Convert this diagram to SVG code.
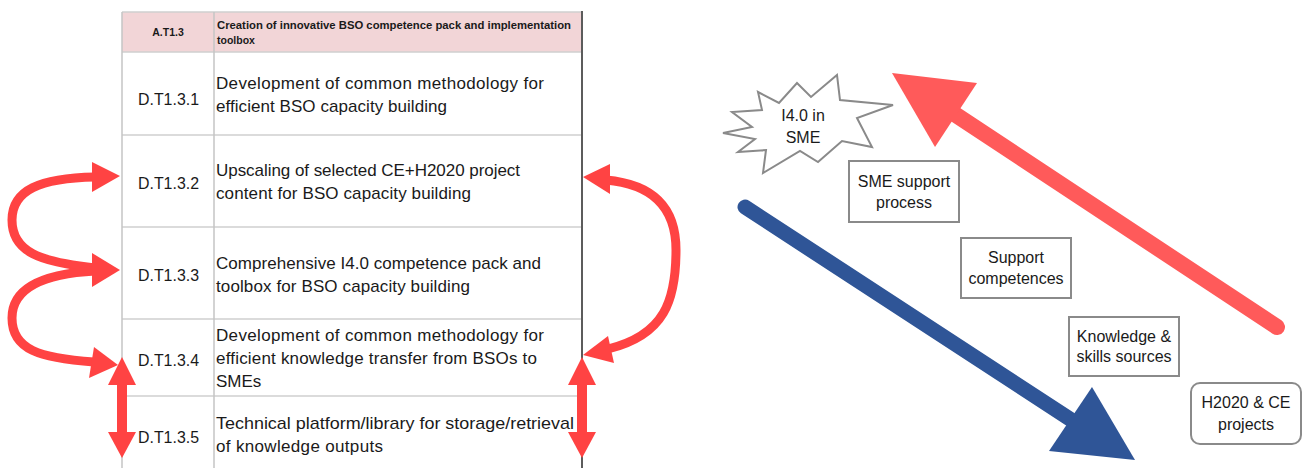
<svg xmlns="http://www.w3.org/2000/svg" width="1306" height="468" viewBox="0 0 1306 468">
<style>
  text { font-family: "Liberation Sans", Arial, sans-serif; fill: #1a1a1a; }
  .cell { font-size: 17px; }
  .hdr { font-size: 10.5px; font-weight: bold; }
  .lbl { font-size: 16px; text-anchor: middle; }
  .hline { stroke: #cfcfcf; stroke-width: 1.5; }
  .vline { stroke: #c4c4c4; stroke-width: 1.5; }
  .box { fill: #ffffff; stroke: #8a8a8a; stroke-width: 2; }
  .redc { fill: none; stroke: #ff4343; stroke-width: 9; }
  .redh { fill: #ff4343; }
</style>
<rect width="1306" height="468" fill="#ffffff"/>

<g id="table">
  <rect x="122" y="12" width="460" height="40" fill="#f2d5d7"/>
  <line class="hline" x1="122" y1="12" x2="582" y2="12"/>
  <line class="hline" x1="122" y1="52" x2="582" y2="52"/>
  <line class="hline" x1="122" y1="135" x2="582" y2="135"/>
  <line class="hline" x1="122" y1="227" x2="582" y2="227"/>
  <line class="hline" x1="122" y1="319" x2="582" y2="319"/>
  <line class="hline" x1="122" y1="396" x2="582" y2="396"/>
  <line class="vline" x1="122" y1="12" x2="122" y2="468"/>
  <line class="vline" x1="214" y1="12" x2="214" y2="468"/>
  <line x1="582" y1="11" x2="582" y2="468" stroke="#5c5c5c" stroke-width="2"/>
</g>

<g id="header">
  <text class="hdr" x="168" y="36" text-anchor="middle">A.T1.3</text>
  <text class="hdr" x="217" y="29" textLength="354" lengthAdjust="spacingAndGlyphs">Creation of innovative BSO competence pack and implementation</text>
  <text class="hdr" x="217" y="44">toolbox</text>
</g>

<g id="row1">
  <text class="cell" x="138" y="105" textLength="61" lengthAdjust="spacingAndGlyphs">D.T1.3.1</text>
  <text class="cell" x="216" y="89" textLength="328" lengthAdjust="spacing">Development of common methodology for</text>
  <text class="cell" x="216" y="112" textLength="231" lengthAdjust="spacing">efficient BSO capacity building</text>
</g>
<g id="row2">
  <text class="cell" x="138" y="189" textLength="61" lengthAdjust="spacingAndGlyphs">D.T1.3.2</text>
  <text class="cell" x="216" y="176" textLength="304" lengthAdjust="spacing">Upscaling of selected CE+H2020 project</text>
  <text class="cell" x="216" y="199" textLength="255" lengthAdjust="spacing">content for BSO capacity building</text>
</g>
<g id="row3">
  <text class="cell" x="138" y="281" textLength="61" lengthAdjust="spacingAndGlyphs">D.T1.3.3</text>
  <text class="cell" x="216" y="269" textLength="325" lengthAdjust="spacing">Comprehensive I4.0 competence pack and</text>
  <text class="cell" x="216" y="292" textLength="254" lengthAdjust="spacing">toolbox for BSO capacity building</text>
</g>
<g id="row4">
  <text class="cell" x="138" y="366" textLength="61" lengthAdjust="spacingAndGlyphs">D.T1.3.4</text>
  <text class="cell" x="216" y="341" textLength="328" lengthAdjust="spacing">Development of common methodology for</text>
  <text class="cell" x="216" y="364" textLength="321" lengthAdjust="spacing">efficient knowledge transfer from BSOs to</text>
  <text class="cell" x="216" y="387">SMEs</text>
</g>
<g id="row5">
  <text class="cell" x="138" y="443" textLength="61" lengthAdjust="spacingAndGlyphs">D.T1.3.5</text>
  <text class="cell" x="216" y="429" textLength="358" lengthAdjust="spacingAndGlyphs">Technical platform/library for storage/retrieval</text>
  <text class="cell" x="216" y="452" textLength="167" lengthAdjust="spacing">of knowledge outputs</text>
</g>

<g id="star">
  <polygon points="758,92 779,103 797,83 811,97 837,75 840,100 893,105 857,118 872,147 842,141 818,162 800,151 763,173 766,150 738,152 755,139 723,133 752,127 732,112 762,110" fill="#ffffff" stroke="#8a8a8a" stroke-width="2" stroke-linejoin="miter"/>
  <text class="lbl" x="803" y="121">I4.0 in</text>
  <text class="lbl" x="803" y="143">SME</text>
</g>

<g id="connectors">
  <!-- left curved arrows -->
  <path class="redc" d="M 95,177 C 40,178 12,190 12,220 C 12,252 40,262 95,268"/>
  <path class="redc" d="M 95,271 C 40,274 12,290 12,318 C 12,350 40,358 94,362"/>
  <polygon class="redh" points="120,176 92,162 92,192"/>
  <polygon class="redh" points="120,270 92,253 92,287"/>
  <polygon class="redh" points="118,365 94,347 89,378"/>
  <!-- left vertical double arrow -->
  <rect class="redh" x="117" y="383" width="10" height="51"/>
  <polygon class="redh" points="122,357 136,385 108,385"/>
  <polygon class="redh" points="122,458 136,432 108,432"/>
  <!-- right curved arrow -->
  <path class="redc" d="M 606,180 C 650,184 676,205 676,250 C 676,300 665,335 608,349"/>
  <polygon class="redh" points="583,177 610,164 610,194"/>
  <polygon class="redh" points="583,355 608,336 614,363"/>
  <!-- right vertical double arrow -->
  <rect class="redh" x="577" y="383" width="10" height="51"/>
  <polygon class="redh" points="582,357 596,385 568,385"/>
  <polygon class="redh" points="582,458 596,432 568,432"/>
  <!-- big red arrow -->
  <line x1="1277" y1="327" x2="950" y2="111" stroke="#ff5a5a" stroke-width="16" stroke-linecap="round"/>
  <polygon points="892,73 977,83 935,147" fill="#ff5a5a"/>
  <!-- big blue arrow -->
  <line x1="745" y1="207" x2="1076" y2="423" stroke="#2f5597" stroke-width="15" stroke-linecap="round"/>
  <polygon points="1135,460 1092,387 1049,451" fill="#2f5597"/>
</g>

<g id="sme-support">
  <rect class="box" x="849" y="161" width="110" height="61"/>
  <text class="lbl" x="904" y="187">SME support</text>
  <text class="lbl" x="904" y="208">process</text>
</g>
<g id="support-competences">
  <rect class="box" x="961" y="238" width="110" height="60"/>
  <text class="lbl" x="1016" y="263">Support</text>
  <text class="lbl" x="1016" y="284">competences</text>
</g>
<g id="knowledge">
  <rect class="box" x="1069" y="317" width="110" height="59"/>
  <text class="lbl" x="1124" y="342">Knowledge &amp;</text>
  <text class="lbl" x="1124" y="362">skills sources</text>
</g>
<g id="h2020">
  <rect class="box" x="1191" y="383" width="110" height="61" rx="9"/>
  <text class="lbl" x="1246" y="408">H2020 &amp; CE</text>
  <text class="lbl" x="1246" y="430">projects</text>
</g>
</svg>
